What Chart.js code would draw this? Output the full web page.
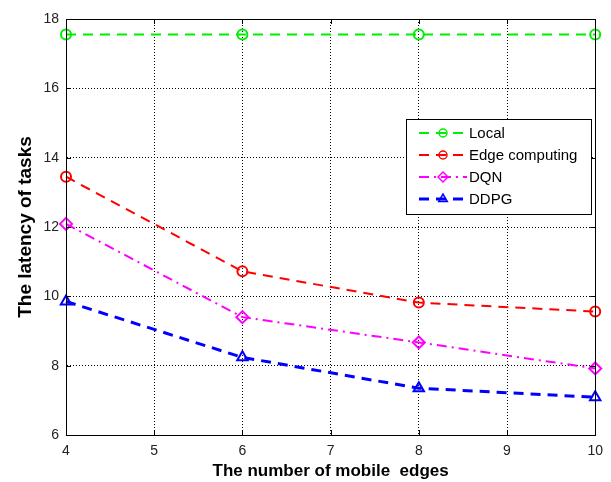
<!DOCTYPE html>
<html>
<head>
<meta charset="utf-8">
<script src="https://cdn.jsdelivr.net/npm/chart.js@4.4.1/dist/chart.umd.min.js"></script>
<style>
  html, body { margin: 0; padding: 0; background: #fff; }
  #wrap { width: 611px; height: 482px; position: relative; }
</style>
</head>
<body>
<div id="wrap"><canvas id="c" width="611" height="482"></canvas></div>
<script>
// Number of mobile edges (x) and task latency per method
const edges = [4, 6, 8, 10];
const localLatency = [17.55, 17.55, 17.55, 17.55];
const edgeLatency = [13.45, 10.72, 9.82, 9.56];
const dqnLatency = [12.09, 9.40, 8.67, 7.92];
const ddpgLatency = [9.85, 8.24, 7.35, 7.09];
const yTicks = [6, 8, 10, 12, 14, 16, 18];

const FONT = '"Liberation Sans", Arial, sans-serif';

function series(label, values, color, dash, style, radius, width) {
  return {
    label,
    data: edges.map((x, i) => ({ x, y: values[i] })),
    borderColor: color,
    backgroundColor: color,
    borderDash: dash,
    borderWidth: width,
    pointStyle: style,
    pointRadius: radius,
    pointBorderColor: color,
    pointBackgroundColor: 'rgba(0,0,0,0)',
    pointBorderWidth: 2,
    tension: 0,
    fill: false,
    clip: false
  };
}

const datasets = [
  series('Local', localLatency, '#00ee00', [10, 7], 'circle', 5, 2),
  series('Edge computing', edgeLatency, '#ff0000', [10, 7], 'circle', 5, 2),
  series('DQN', dqnLatency, '#ff00ff', [10, 5, 2, 5], 'rectRot', 6, 2),
  series('DDPG', ddpgLatency, '#0000ff', [10, 7], 'triangle', 6, 3)
];

// Box around the plot plus inward tick marks
const framePlugin = {
  id: 'frame',
  afterDraw(chart) {
    const { ctx, chartArea: a, scales } = chart;
    ctx.save();
    ctx.strokeStyle = '#000';
    ctx.lineWidth = 1;
    ctx.setLineDash([]);
    ctx.strokeRect(Math.round(a.left) + 0.5, Math.round(a.top) + 0.5,
      Math.round(a.right - a.left), Math.round(a.bottom - a.top));
    ctx.beginPath();
    edges.concat([5, 7, 9]).forEach(v => {
      const px = Math.round(scales.x.getPixelForValue(v)) + 0.5;
      ctx.moveTo(px, a.bottom); ctx.lineTo(px, a.bottom - 5);
      ctx.moveTo(px, a.top); ctx.lineTo(px, a.top + 5);
    });
    yTicks.forEach(v => {
      const py = Math.round(scales.y.getPixelForValue(v)) + 0.5;
      ctx.moveTo(a.left, py); ctx.lineTo(a.left + 5, py);
      ctx.moveTo(a.right, py); ctx.lineTo(a.right - 5, py);
    });
    ctx.stroke();
    ctx.restore();
  }
};

// Legend box drawn inside the plot area
const legendBoxPlugin = {
  id: 'legendBox',
  afterDraw(chart) {
    const { ctx } = chart;
    const box = { x: 406.5, y: 119.5, w: 185, h: 95 };
    ctx.save();
    ctx.fillStyle = '#fff';
    ctx.fillRect(box.x, box.y, box.w, box.h);
    ctx.strokeStyle = '#000';
    ctx.lineWidth = 1;
    ctx.setLineDash([]);
    ctx.strokeRect(box.x, box.y, box.w, box.h);
    ctx.font = '15px ' + FONT;
    ctx.textBaseline = 'middle';
    ctx.textAlign = 'left';
    chart.data.datasets.forEach((ds, i) => {
      const cy = 133 + i * 22;
      ctx.strokeStyle = ds.borderColor;
      ctx.lineWidth = ds.borderWidth;
      ctx.setLineDash(ds.borderDash);
      ctx.beginPath();
      ctx.moveTo(419, cy);
      ctx.lineTo(467, cy);
      ctx.stroke();
      ctx.setLineDash([]);
      ctx.lineWidth = 1.5;
      ctx.fillStyle = 'rgba(0,0,0,0)';
      Chart.helpers.drawPoint(ctx, {
        pointStyle: ds.pointStyle,
        radius: ds.pointStyle === 'triangle' ? 5 : ds.pointRadius - 1,
        borderWidth: 1.5
      }, 443, cy);
      ctx.fillStyle = '#000';
      ctx.fillText(ds.label, 469, cy + 1);
    });
    ctx.restore();
  }
};

new Chart(document.getElementById('c'), {
  type: 'line',
  data: { datasets },
  options: {
    responsive: false,
    animation: false,
    layout: { padding: { top: 19, right: 15, left: 0, bottom: 0 } },
    plugins: { legend: { display: false }, tooltip: { enabled: false } },
    scales: {
      x: {
        type: 'linear',
        min: 4,
        max: 10,
        ticks: {
          stepSize: 1,
          color: '#222',
          font: { family: FONT, size: 14 },
          padding: 8
        },
        grid: {
          color: '#000',
          lineWidth: 1,
          drawTicks: false
        },
        border: { display: true, color: '#000', dash: [1, 2] },
        title: {
          display: true,
          text: 'The number of mobile  edges',
          color: '#000',
          font: { family: FONT, size: 17, weight: 'bold' },
          padding: { top: 2, bottom: 0 }
        },
        afterFit(s) { s.height = 47; }
      },
      y: {
        min: 6,
        max: 18,
        afterBuildTicks(s) { s.ticks = yTicks.map(v => ({ value: v })); },
        ticks: {
          color: '#222',
          font: { family: FONT, size: 14 },
          padding: 7
        },
        grid: {
          color: '#000',
          lineWidth: 1,
          drawTicks: false
        },
        border: { display: true, color: '#000', dash: [1, 2] },
        title: {
          display: true,
          text: 'The latency of tasks',
          color: '#000',
          font: { family: FONT, size: 19, weight: 'bold' },
          padding: { top: 14, bottom: 0 }
        },
        afterFit(s) { s.width = 66; }
      }
    },
    elements: { line: { borderCapStyle: 'butt' } }
  },
  plugins: [framePlugin, legendBoxPlugin]
});
</script>
</body>
</html>
